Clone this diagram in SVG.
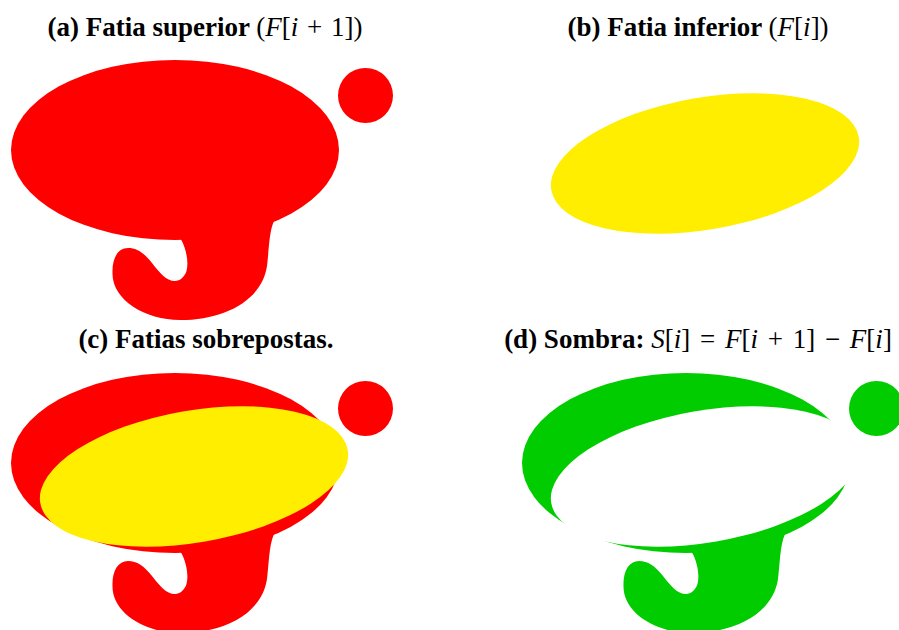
<svg xmlns="http://www.w3.org/2000/svg" xmlns:xlink="http://www.w3.org/1999/xlink" width="899" height="630" viewBox="0 0 899 630">
<style>
.title{font-family:"Liberation Serif","Times New Roman",serif;font-size:27px;font-weight:bold;fill:#000;text-anchor:middle}
.m{font-weight:normal}
.mi{font-weight:normal;font-style:italic}
</style>
<defs>
<g id="shape">
<ellipse cx="175" cy="150" rx="164" ry="90"/>
<circle cx="365.5" cy="95.5" r="27.5"/>
<path d="M181,239.5 C186,248 189,262 186.5,271 C184.5,277 180,281 175,281 C166,281 160,273 152,263 C144,253 137,248 128,248 C118,248 112,258 112.5,273 C112,300 145,320 180,320 C225,320 262,300 267,266 C269,250 269,232 274,221 L260,180 L181,180 Z"/>
</g>
<ellipse id="yel" cx="194" cy="163.5" rx="156" ry="66" transform="rotate(-9.8 194 163.5)"/>
<mask id="cut" maskUnits="userSpaceOnUse" x="-100" y="-100" width="700" height="600">
<rect x="-100" y="-100" width="700" height="600" fill="#fff"/>
<use xlink:href="#yel" fill="#000"/>
</mask>
</defs>

<g id="panel-a">
<text class="title" x="205" y="36">(a) Fatia superior <tspan class="m">(</tspan><tspan class="mi">F</tspan><tspan class="m">[</tspan><tspan class="mi">i</tspan><tspan class="m" dx="2"> + </tspan><tspan class="m" dx="2">1])</tspan></text>
<use xlink:href="#shape" fill="#ff0000"/>
</g>

<g id="panel-b">
<text class="title" x="698" y="36">(b) Fatia inferior <tspan class="m">(</tspan><tspan class="mi">F</tspan><tspan class="m">[</tspan><tspan class="mi">i</tspan><tspan class="m">])</tspan></text>
<g transform="translate(511,0)"><use xlink:href="#yel" fill="#ffee00"/></g>
</g>

<g id="panel-c">
<text class="title" x="206" y="348">(c) Fatias sobrepostas.</text>
<g transform="translate(0,313)">
<use xlink:href="#shape" fill="#ff0000"/>
<use xlink:href="#yel" fill="#ffee00"/>
</g>
</g>

<g id="panel-d">
<text class="title" x="698" y="348">(d) Sombra: <tspan class="mi">S</tspan><tspan class="m">[</tspan><tspan class="mi">i</tspan><tspan class="m">]</tspan><tspan class="m" dx="3"> = </tspan><tspan class="mi" dx="3">F</tspan><tspan class="m">[</tspan><tspan class="mi">i</tspan><tspan class="m" dx="3"> + </tspan><tspan class="m" dx="3">1]</tspan><tspan class="m" dx="3"> − </tspan><tspan class="mi" dx="3">F</tspan><tspan class="m">[</tspan><tspan class="mi">i</tspan><tspan class="m">]</tspan></text>
<g transform="translate(511,313)">
<g mask="url(#cut)"><use xlink:href="#shape" fill="#00cc00"/></g>
</g>
</g>
</svg>
